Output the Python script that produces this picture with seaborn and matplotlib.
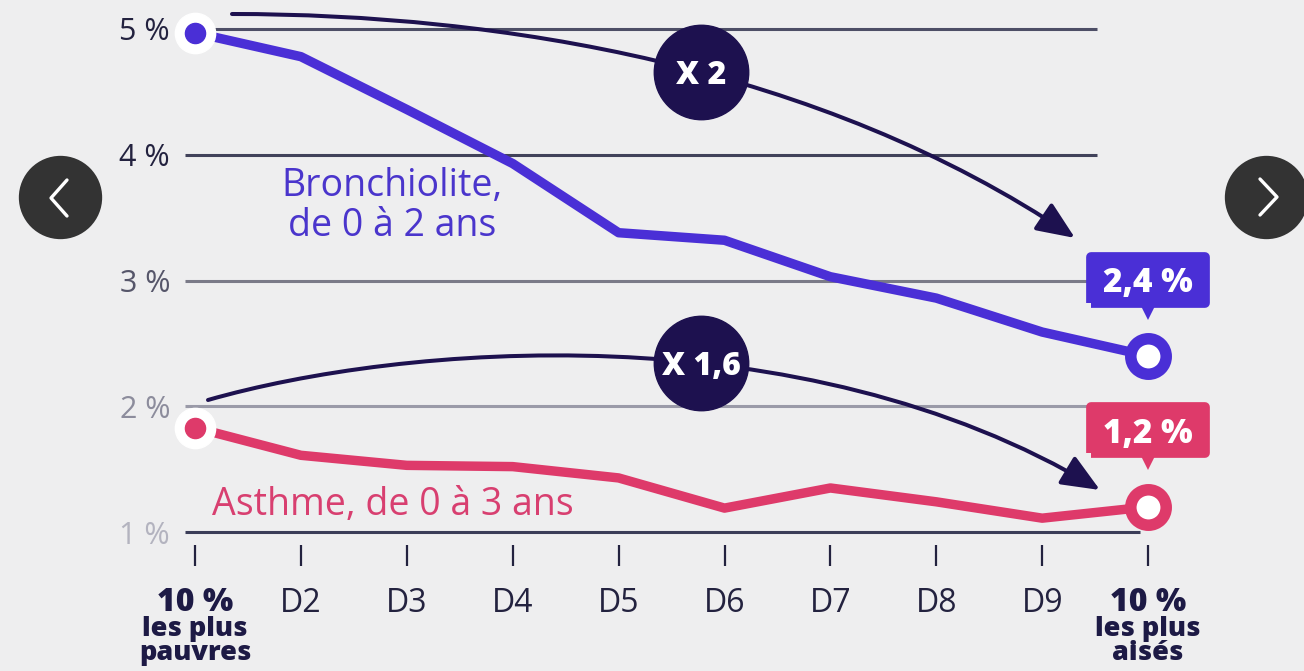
import matplotlib
matplotlib.use("Agg")
import numpy as np
import pandas as pd
import matplotlib.pyplot as plt
import seaborn as sns
from matplotlib.lines import Line2D
from matplotlib.markers import MarkerStyle
from matplotlib.patches import FancyArrowPatch
from matplotlib.path import Path
from matplotlib.transforms import offset_copy

# ---------------------------------------------------------------- data
deciles = list(range(10))
tick_labels = ["10 %", "D2", "D3", "D4", "D5", "D6", "D7", "D8", "D9", "10 %"]
extreme_notes = ["les plus\npauvres", "les plus\naisés"]
bronchiolite = [4.97, 4.78, 4.36, 3.93, 3.38, 3.32, 3.03, 2.86, 2.59, 2.4]
asthme = [1.83, 1.61, 1.53, 1.52, 1.43, 1.19, 1.35, 1.24, 1.11, 1.2]
series_labels = ["Bronchiolite,\nde 0 à 2 ans", "Asthme, de 0 à 3 ans"]
y_ticks = [1, 2, 3, 4, 5]
y_tick_labels = ["1 %", "2 %", "3 %", "4 %", "5 %"]
ratio_labels = ["X 2", "X 1,6"]

# ---------------------------------------------------------------- style
W, H, DPI = 1304, 671, 100
BG = "#eeeeef"
PURPLE = "#4a2fd6"
PINK = "#de3a6a"
NAVY = "#1d114f"
INK = "#23223f"

sns.set_theme(style="white")
plt.rcParams["font.family"] = ["Open Sans", "DejaVu Sans"]

# pixel layout of the plotting grid: first decile column, column step,
# row of the 1 % line and height of one percentage point
X0, DX = 195, 105.9
Y1, DY = 532, 125.75
AX_BOTTOM = 545


def at(px, py):
    """Figure pixel position -> data coordinates of the main axes."""
    return (px - X0) / DX, 1 + (Y1 - py) / DY


fig = plt.figure(figsize=(W / DPI, H / DPI), dpi=DPI, facecolor=BG)
ax = fig.add_axes([0, 1 - AX_BOTTOM / H, 1, AX_BOTTOM / H])
ax.set_facecolor(BG)
ax.set_xlim(at(0, 0)[0], at(W, 0)[0])
ax.set_ylim(at(0, AX_BOTTOM)[1], at(0, 0)[1])

# ---------------------------------------------------------------- grid
grid_colors = ["#3b3d58", "#9a9aa8", "#7a7a88", "#41425a", "#4d4e66"]
grid_end = [at(1140, 0)[0]] + [at(1097, 0)[0]] * 4
for v, c, xe in zip(y_ticks, grid_colors, grid_end):
    ax.hlines(v, at(185, 0)[0], xe, color=c, lw=2.2, zorder=1)

# ---------------------------------------------------------------- lines
df = pd.DataFrame({
    "decile": deciles * 2,
    "taux": bronchiolite + asthme,
    "serie": ["bronchiolite"] * len(deciles) + ["asthme"] * len(deciles),
})
sns.lineplot(data=df, x="decile", y="taux", hue="serie",
             palette={"bronchiolite": PURPLE, "asthme": PINK},
             linewidth=6.8, legend=False, errorbar=None, sort=False,
             ax=ax, zorder=4)
for ln in ax.lines:
    ln.set_solid_joinstyle("round")
    ln.set_solid_capstyle("round")

# start / end markers
for values, col in ((bronchiolite, PURPLE), (asthme, PINK)):
    ax.plot(deciles[0], values[0], "o", ms=29, color="white", zorder=5)
    ax.plot(deciles[0], values[0], "o", ms=14.5, color=col, zorder=6)
    ax.plot(deciles[-1], values[-1], "o", ms=25.5, mfc="white", mec=col,
            mew=8.3, zorder=6)

# value tags above the last decile
tag_marker = MarkerStyle([(-1, -0.4), (1, -0.4), (1, 0.4), (-1, 0.4),
                          (-1, -0.4)], joinstyle="round")
for values, col in ((bronchiolite, PURPLE), (asthme, PINK)):
    x, v = deciles[-1], values[-1]
    box_tr = offset_copy(ax.transData, fig=fig, x=0, y=55, units="points")
    tip_tr = offset_copy(ax.transData, fig=fig, x=0, y=32, units="points")
    ax.plot(x, v, marker=tag_marker, ms=82, mfc=col, mec=col, mew=7,
            transform=box_tr, zorder=7)
    ax.plot(x, v, marker="v", ms=11, color=col, mew=0,
            transform=tip_tr, zorder=7)
    ax.annotate(f"{v:.1f} %".replace(".", ","), xy=(x, v),
                xytext=(0, 55 - 9), textcoords="offset points",
                ha="center", va="baseline", fontsize=24,
                fontweight="heavy", color="white", zorder=8)

# ---------------------------------------------------------------- arrows
def bezier(p, t):
    p = np.asarray(p)
    return ((1 - t) ** 3 * p[0] + 3 * (1 - t) ** 2 * t * p[1]
            + 3 * (1 - t) * t ** 2 * p[2] + t ** 3 * p[3])


arrow_paths = [
    [at(232, 14), at(500, 14), at(820, 66), at(1075, 238)],
    [at(208, 400), at(400, 345), at(800, 310), at(1100, 490)],
]
badge_x = at(701, 0)[0]
for pts, label in zip(arrow_paths, ratio_labels):
    path = Path(pts, [Path.MOVETO, Path.CURVE4, Path.CURVE4, Path.CURVE4])
    arr = FancyArrowPatch(path=path,
                          arrowstyle="-|>,head_length=1.3,head_width=0.55",
                          mutation_scale=18, color=NAVY, lw=2.9, zorder=3)
    ax.add_patch(arr)
    lo, hi = 0.0, 1.0
    for _ in range(40):
        mid = (lo + hi) / 2
        if bezier(pts, mid)[0] < badge_x:
            lo = mid
        else:
            hi = mid
    bx, by = bezier(pts, lo)
    ax.plot(bx, by, "o", ms=68, color=NAVY, zorder=6)
    ax.annotate(label, xy=(bx, by), xytext=(0, -8.5),
                textcoords="offset points", ha="center", va="baseline",
                fontsize=23, fontweight="heavy", color="white", zorder=7)

# ---------------------------------------------------------------- labels
ax.text(*at(392, 206), series_labels[0], ha="center", va="center",
        multialignment="center", fontsize=27, color="#4a35cc",
        linespacing=1.05, zorder=5)
ax.text(*at(393, 505), series_labels[1], ha="center", va="center",
        fontsize=27, color="#d83f70", zorder=5)

# ---------------------------------------------------------------- axes
ax.set_yticks(y_ticks, y_tick_labels)
ax.tick_params(axis="y", left=False, length=0, pad=-170 * 0.72,
               labelsize=22)
for lab, c in zip(ax.get_yticklabels(),
                  ["#b3b3bf", "#8c8c9c", "#56566a", INK, INK]):
    lab.set_color(c)

ax.set_xticks(deciles, tick_labels)
ax.tick_params(axis="x", bottom=True, direction="out", length=15,
               width=1.6, color=INK, pad=15, labelsize=23, labelcolor=INK)
for i in (0, -1):
    lbl = ax.get_xticklabels()[i]
    lbl.set_fontweight("heavy")
    lbl.set_color("#1d1a45")
for i, note in zip((deciles[0], deciles[-1]), extreme_notes):
    ax.text(i, at(0, 616)[1], note, ha="center", va="top", fontsize=19.5,
            fontweight="heavy", color="#1d1a45", linespacing=0.92,
            clip_on=False)

for s in ax.spines.values():
    s.set_visible(False)
ax.set_xlabel("")
ax.set_ylabel("")

# ---------------------------------------------------------------- carousel buttons
for cx, chevron in ((60, [(67, 180), (51, 198), (67, 216)]),
                    (1266, [(1260, 179), (1277, 197), (1260, 215)])):
    fig.add_artist(Line2D([cx / W], [1 - 197 / H], marker="o", ms=60,
                          color="#333333", mew=0,
                          transform=fig.transFigure))
    xs = [p[0] / W for p in chevron]
    ys = [1 - p[1] / H for p in chevron]
    fig.add_artist(Line2D(xs, ys, color="white", lw=2.4,
                          transform=fig.transFigure))

fig.savefig("out.png", dpi=DPI, facecolor=BG)
